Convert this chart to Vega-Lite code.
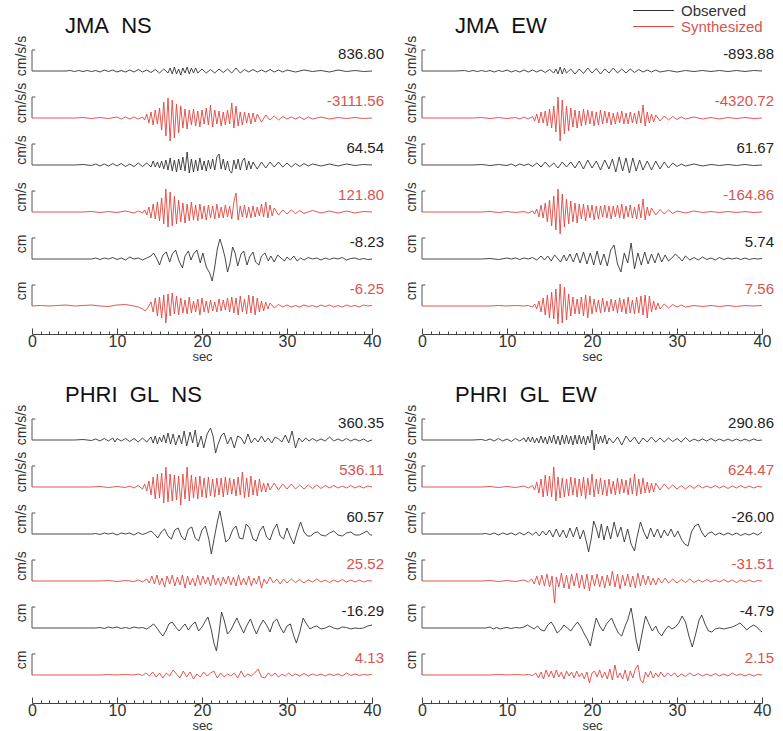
{
"$schema":"https://vega.github.io/schema/vega-lite/v6.json",
"background":"white",
"padding":{"left":14,"top":3,"right":2,"bottom":0},
"config":{
"view":{"stroke":null},
"font":"Liberation Sans",
"facet":{"spacing":17},
"header":{"labelFontSize":14,"labelColor":"#333","labelPadding":-4,"labelAngle":-90,"labelOrient":"left","title":null},
"title":{"fontSize":22,"fontWeight":"normal","anchor":"start","color":"#111"},
"axisX":{"tickColor":"#444","domainColor":"#444","labelFontSize":16,"labelColor":"#333","labelPadding":5,"titleFontSize":13,"titleFontWeight":"normal","titleColor":"#333","titlePadding":-2,"grid":false,"offset":28,"labelFlush":false,"labelOverlap":false},
"axisY":{"disable":true},
"legend":{"orient":"none","legendX":614,"legendY":-38,"symbolType":"M-3.4,0H3.4","symbolSize":144,"symbolStrokeWidth":1,"labelFontSize":15,"rowPadding":0,"labelOffset":20}
},
"datasets":{
"a":[
{"k":1,"lab":"836.80"},{"k":2,"lab":"-3111.56"},{"k":3,"lab":"64.54"},{"k":4,"lab":"121.80"},{"k":5,"lab":"-8.23"},{"k":6,"lab":"-6.25"},
{"k":1,"t":0,"v":0},{"k":1,"t":4,"v":0},{"k":1,"t":4.5,"v":0.5},{"k":1,"t":5,"v":-0.5},{"k":1,"t":5.5,"v":0.5},{"k":1,"t":6,"v":-0.5},{"k":1,"t":6.5,"v":0.5},{"k":1,"t":7,"v":-0.5},{"k":1,"t":7.5,"v":0.5},{"k":1,"t":8,"v":-1},{"k":1,"t":8.5,"v":1},{"k":1,"t":9,"v":-0.5},{"k":1,"t":9.5,"v":1},{"k":1,"t":10,"v":-1},{"k":1,"t":10.5,"v":0.5},{"k":1,"t":11,"v":-1},{"k":1,"t":11.5,"v":1},{"k":1,"t":12,"v":-1},{"k":1,"t":12.5,"v":1.5},{"k":1,"t":13,"v":-1},{"k":1,"t":13.5,"v":1},{"k":1,"t":14,"v":-1.5},{"k":1,"t":14.5,"v":1.5},{"k":1,"t":15,"v":-2},{"k":1,"t":15.5,"v":2},{"k":1,"t":16,"v":-2},{"k":1,"t":16.25,"v":3},{"k":1,"t":16.5,"v":-3},{"k":1,"t":16.75,"v":4},{"k":1,"t":17,"v":-3},{"k":1,"t":17.25,"v":2},{"k":1,"t":17.5,"v":-4},{"k":1,"t":17.75,"v":3},{"k":1,"t":18,"v":-2},{"k":1,"t":18.25,"v":4},{"k":1,"t":18.5,"v":-3},{"k":1,"t":18.75,"v":3},{"k":1,"t":19,"v":-2},{"k":1,"t":19.25,"v":3},{"k":1,"t":19.5,"v":-2},{"k":1,"t":20,"v":2},{"k":1,"t":20.5,"v":-2},{"k":1,"t":21,"v":1.5},{"k":1,"t":21.5,"v":-2},{"k":1,"t":22,"v":2},{"k":1,"t":22.5,"v":-1.5},{"k":1,"t":23,"v":2},{"k":1,"t":23.5,"v":-2},{"k":1,"t":24,"v":3},{"k":1,"t":24.5,"v":-2},{"k":1,"t":25,"v":1.5},{"k":1,"t":25.5,"v":-1},{"k":1,"t":26,"v":1.5},{"k":1,"t":26.5,"v":-1},{"k":1,"t":27,"v":1},{"k":1,"t":27.5,"v":-1},{"k":1,"t":28,"v":1.5},{"k":1,"t":28.5,"v":-1},{"k":1,"t":29,"v":1},{"k":1,"t":29.5,"v":-1},{"k":1,"t":30,"v":1},{"k":1,"t":31,"v":-1},{"k":1,"t":32,"v":1},{"k":1,"t":33,"v":-0.5},{"k":1,"t":34,"v":0.5},{"k":1,"t":35,"v":-1},{"k":1,"t":36,"v":1},{"k":1,"t":37,"v":-0.5},{"k":1,"t":38,"v":0.5},{"k":1,"t":39,"v":-0.5},{"k":1,"t":40,"v":0},
{"k":2,"t":0,"v":0},{"k":2,"t":5,"v":0},{"k":2,"t":6,"v":0.5},{"k":2,"t":7,"v":-0.5},{"k":2,"t":8,"v":0.5},{"k":2,"t":9,"v":-0.5},{"k":2,"t":10,"v":1},{"k":2,"t":10.5,"v":-1},{"k":2,"t":11,"v":1},{"k":2,"t":11.5,"v":-1},{"k":2,"t":12,"v":1},{"k":2,"t":12.5,"v":-1},{"k":2,"t":13,"v":1},{"k":2,"t":13.25,"v":-2},{"k":2,"t":13.5,"v":4},{"k":2,"t":13.75,"v":-5},{"k":2,"t":14,"v":6},{"k":2,"t":14.25,"v":-7},{"k":2,"t":14.5,"v":8},{"k":2,"t":14.75,"v":-6},{"k":2,"t":15,"v":10},{"k":2,"t":15.25,"v":-12},{"k":2,"t":15.5,"v":16},{"k":2,"t":15.75,"v":-18},{"k":2,"t":16,"v":20},{"k":2,"t":16.25,"v":-23},{"k":2,"t":16.5,"v":18},{"k":2,"t":16.75,"v":-20},{"k":2,"t":17,"v":14},{"k":2,"t":17.25,"v":-15},{"k":2,"t":17.5,"v":12},{"k":2,"t":17.75,"v":-10},{"k":2,"t":18,"v":9},{"k":2,"t":18.25,"v":-11},{"k":2,"t":18.5,"v":8},{"k":2,"t":18.75,"v":-7},{"k":2,"t":19,"v":9},{"k":2,"t":19.25,"v":-8},{"k":2,"t":19.5,"v":7},{"k":2,"t":19.75,"v":-9},{"k":2,"t":20,"v":8},{"k":2,"t":20.25,"v":-6},{"k":2,"t":20.5,"v":10},{"k":2,"t":20.75,"v":-7},{"k":2,"t":21,"v":13},{"k":2,"t":21.25,"v":-9},{"k":2,"t":21.5,"v":8},{"k":2,"t":21.75,"v":-6},{"k":2,"t":22,"v":7},{"k":2,"t":22.25,"v":-8},{"k":2,"t":22.5,"v":6},{"k":2,"t":22.75,"v":-7},{"k":2,"t":23,"v":8},{"k":2,"t":23.25,"v":-6},{"k":2,"t":23.5,"v":15},{"k":2,"t":23.75,"v":-10},{"k":2,"t":24,"v":12},{"k":2,"t":24.25,"v":-8},{"k":2,"t":24.5,"v":6},{"k":2,"t":24.75,"v":-7},{"k":2,"t":25,"v":6},{"k":2,"t":25.25,"v":-5},{"k":2,"t":25.5,"v":5},{"k":2,"t":25.75,"v":-6},{"k":2,"t":26,"v":5},{"k":2,"t":26.25,"v":-4},{"k":2,"t":26.5,"v":4},{"k":2,"t":27,"v":-4},{"k":2,"t":27.5,"v":3},{"k":2,"t":28,"v":-2},{"k":2,"t":28.5,"v":2},{"k":2,"t":29,"v":-2},{"k":2,"t":29.5,"v":1.5},{"k":2,"t":30,"v":-1},{"k":2,"t":30.5,"v":1},{"k":2,"t":31,"v":-1},{"k":2,"t":31.5,"v":1},{"k":2,"t":32,"v":-1.5},{"k":2,"t":32.5,"v":1},{"k":2,"t":33,"v":-1},{"k":2,"t":34,"v":1},{"k":2,"t":35,"v":-1},{"k":2,"t":36,"v":0.5},{"k":2,"t":37,"v":-0.5},{"k":2,"t":38,"v":0.5},{"k":2,"t":39,"v":-0.5},{"k":2,"t":40,"v":0},
{"k":3,"t":0,"v":0},{"k":3,"t":5,"v":0},{"k":3,"t":6,"v":0.5},{"k":3,"t":7,"v":-0.5},{"k":3,"t":7.5,"v":1},{"k":3,"t":8,"v":-1},{"k":3,"t":8.5,"v":1},{"k":3,"t":9,"v":-1},{"k":3,"t":9.5,"v":1.5},{"k":3,"t":10,"v":-1},{"k":3,"t":10.5,"v":1.5},{"k":3,"t":11,"v":-1.5},{"k":3,"t":11.5,"v":1},{"k":3,"t":12,"v":-1.5},{"k":3,"t":12.5,"v":2},{"k":3,"t":13,"v":-1.5},{"k":3,"t":13.5,"v":2},{"k":3,"t":14,"v":-2},{"k":3,"t":14.25,"v":4},{"k":3,"t":14.5,"v":-2},{"k":3,"t":14.75,"v":3},{"k":3,"t":15,"v":-3},{"k":3,"t":15.25,"v":4},{"k":3,"t":15.5,"v":-4},{"k":3,"t":15.75,"v":5},{"k":3,"t":16,"v":-5},{"k":3,"t":16.25,"v":7},{"k":3,"t":16.5,"v":-6},{"k":3,"t":16.75,"v":5},{"k":3,"t":17,"v":-7},{"k":3,"t":17.25,"v":6},{"k":3,"t":17.5,"v":-5},{"k":3,"t":17.75,"v":8},{"k":3,"t":18,"v":-6},{"k":3,"t":18.25,"v":13},{"k":3,"t":18.5,"v":-8},{"k":3,"t":18.75,"v":6},{"k":3,"t":19,"v":-7},{"k":3,"t":19.25,"v":5},{"k":3,"t":19.5,"v":-6},{"k":3,"t":19.75,"v":7},{"k":3,"t":20,"v":-5},{"k":3,"t":20.25,"v":4},{"k":3,"t":20.5,"v":-6},{"k":3,"t":20.75,"v":5},{"k":3,"t":21,"v":-4},{"k":3,"t":21.25,"v":6},{"k":3,"t":21.5,"v":-5},{"k":3,"t":21.75,"v":8},{"k":3,"t":22,"v":11},{"k":3,"t":22.25,"v":-4},{"k":3,"t":22.5,"v":6},{"k":3,"t":22.75,"v":-5},{"k":3,"t":23,"v":4},{"k":3,"t":23.25,"v":-6},{"k":3,"t":23.5,"v":-8},{"k":3,"t":23.75,"v":5},{"k":3,"t":24,"v":-4},{"k":3,"t":24.25,"v":6},{"k":3,"t":24.5,"v":-5},{"k":3,"t":24.75,"v":4},{"k":3,"t":25,"v":7},{"k":3,"t":25.25,"v":-5},{"k":3,"t":25.5,"v":4},{"k":3,"t":25.75,"v":-4},{"k":3,"t":26,"v":3},{"k":3,"t":26.5,"v":-4},{"k":3,"t":27,"v":3},{"k":3,"t":27.5,"v":-3},{"k":3,"t":28,"v":3},{"k":3,"t":28.5,"v":-2},{"k":3,"t":29,"v":3},{"k":3,"t":29.5,"v":-2},{"k":3,"t":30,"v":2},{"k":3,"t":30.5,"v":-2},{"k":3,"t":31,"v":1.5},{"k":3,"t":31.5,"v":-1.5},{"k":3,"t":32,"v":1.5},{"k":3,"t":32.5,"v":-1},{"k":3,"t":33,"v":1},{"k":3,"t":34,"v":-1},{"k":3,"t":35,"v":1},{"k":3,"t":36,"v":-1},{"k":3,"t":37,"v":1},{"k":3,"t":38,"v":-0.5},{"k":3,"t":39,"v":0.5},{"k":3,"t":40,"v":0},
{"k":4,"t":0,"v":0},{"k":4,"t":6,"v":0},{"k":4,"t":7,"v":0.5},{"k":4,"t":8,"v":-0.5},{"k":4,"t":9,"v":0.5},{"k":4,"t":10,"v":-0.5},{"k":4,"t":11,"v":1},{"k":4,"t":12,"v":-1},{"k":4,"t":12.5,"v":1},{"k":4,"t":13,"v":-1},{"k":4,"t":13.25,"v":2},{"k":4,"t":13.5,"v":-3},{"k":4,"t":13.75,"v":5},{"k":4,"t":14,"v":-6},{"k":4,"t":14.25,"v":8},{"k":4,"t":14.5,"v":-7},{"k":4,"t":14.75,"v":10},{"k":4,"t":15,"v":-9},{"k":4,"t":15.25,"v":14},{"k":4,"t":15.5,"v":-12},{"k":4,"t":15.75,"v":23},{"k":4,"t":16,"v":-15},{"k":4,"t":16.25,"v":20},{"k":4,"t":16.5,"v":-14},{"k":4,"t":16.75,"v":16},{"k":4,"t":17,"v":-12},{"k":4,"t":17.25,"v":12},{"k":4,"t":17.5,"v":-10},{"k":4,"t":17.75,"v":9},{"k":4,"t":18,"v":-11},{"k":4,"t":18.25,"v":8},{"k":4,"t":18.5,"v":-9},{"k":4,"t":18.75,"v":10},{"k":4,"t":19,"v":-8},{"k":4,"t":19.25,"v":7},{"k":4,"t":19.5,"v":-9},{"k":4,"t":19.75,"v":8},{"k":4,"t":20,"v":-7},{"k":4,"t":20.25,"v":6},{"k":4,"t":20.5,"v":-8},{"k":4,"t":20.75,"v":7},{"k":4,"t":21,"v":-6},{"k":4,"t":21.25,"v":6},{"k":4,"t":21.5,"v":-7},{"k":4,"t":21.75,"v":8},{"k":4,"t":22,"v":-6},{"k":4,"t":22.25,"v":5},{"k":4,"t":22.5,"v":-6},{"k":4,"t":22.75,"v":7},{"k":4,"t":23,"v":-5},{"k":4,"t":23.25,"v":6},{"k":4,"t":23.5,"v":-7},{"k":4,"t":23.75,"v":10},{"k":4,"t":24,"v":19},{"k":4,"t":24.25,"v":-8},{"k":4,"t":24.5,"v":6},{"k":4,"t":24.75,"v":-5},{"k":4,"t":25,"v":7},{"k":4,"t":25.25,"v":-6},{"k":4,"t":25.5,"v":5},{"k":4,"t":25.75,"v":-6},{"k":4,"t":26,"v":6},{"k":4,"t":26.25,"v":-5},{"k":4,"t":26.5,"v":5},{"k":4,"t":26.75,"v":-4},{"k":4,"t":27,"v":8},{"k":4,"t":27.25,"v":-5},{"k":4,"t":27.5,"v":10},{"k":4,"t":27.75,"v":-6},{"k":4,"t":28,"v":7},{"k":4,"t":28.25,"v":-4},{"k":4,"t":28.5,"v":4},{"k":4,"t":29,"v":-3},{"k":4,"t":29.5,"v":2},{"k":4,"t":30,"v":-2},{"k":4,"t":30.5,"v":2},{"k":4,"t":31,"v":-1.5},{"k":4,"t":31.5,"v":1.5},{"k":4,"t":32,"v":-1.5},{"k":4,"t":33,"v":1.5},{"k":4,"t":34,"v":-1},{"k":4,"t":35,"v":1},{"k":4,"t":36,"v":-1},{"k":4,"t":37,"v":1},{"k":4,"t":38,"v":-1},{"k":4,"t":39,"v":0.5},{"k":4,"t":40,"v":0},
{"k":5,"t":0,"v":0},{"k":5,"t":7,"v":0},{"k":5,"t":7.5,"v":1},{"k":5,"t":8,"v":-0.5},{"k":5,"t":8.5,"v":1},{"k":5,"t":9,"v":0},{"k":5,"t":9.5,"v":1.5},{"k":5,"t":10,"v":-0.5},{"k":5,"t":10.5,"v":1},{"k":5,"t":11,"v":-1},{"k":5,"t":11.5,"v":2},{"k":5,"t":12,"v":0},{"k":5,"t":12.5,"v":1},{"k":5,"t":13,"v":-1},{"k":5,"t":13.5,"v":1},{"k":5,"t":14,"v":3},{"k":5,"t":14.3,"v":6},{"k":5,"t":14.7,"v":0},{"k":5,"t":15,"v":-6},{"k":5,"t":15.4,"v":4},{"k":5,"t":15.8,"v":7},{"k":5,"t":16.2,"v":-3},{"k":5,"t":16.5,"v":5},{"k":5,"t":16.9,"v":9},{"k":5,"t":17.3,"v":-2},{"k":5,"t":17.7,"v":-9},{"k":5,"t":18,"v":3},{"k":5,"t":18.4,"v":8},{"k":5,"t":18.7,"v":-1},{"k":5,"t":19,"v":5},{"k":5,"t":19.4,"v":9},{"k":5,"t":19.8,"v":-4},{"k":5,"t":20.1,"v":6},{"k":5,"t":20.5,"v":-8},{"k":5,"t":20.9,"v":-14},{"k":5,"t":21.2,"v":-22},{"k":5,"t":21.5,"v":-8},{"k":5,"t":21.8,"v":10},{"k":5,"t":22.1,"v":20},{"k":5,"t":22.4,"v":12},{"k":5,"t":22.7,"v":2},{"k":5,"t":23,"v":-13},{"k":5,"t":23.3,"v":-4},{"k":5,"t":23.6,"v":12},{"k":5,"t":23.9,"v":6},{"k":5,"t":24.2,"v":-7},{"k":5,"t":24.6,"v":5},{"k":5,"t":24.9,"v":8},{"k":5,"t":25.3,"v":-6},{"k":5,"t":25.6,"v":2},{"k":5,"t":26,"v":7},{"k":5,"t":26.3,"v":-3},{"k":5,"t":26.7,"v":-6},{"k":5,"t":27,"v":3},{"k":5,"t":27.4,"v":6},{"k":5,"t":27.8,"v":-2},{"k":5,"t":28.1,"v":3},{"k":5,"t":28.5,"v":-3},{"k":5,"t":28.9,"v":4},{"k":5,"t":29.3,"v":1},{"k":5,"t":29.7,"v":-2},{"k":5,"t":30,"v":2},{"k":5,"t":30.4,"v":-1},{"k":5,"t":30.8,"v":3},{"k":5,"t":31.2,"v":-2},{"k":5,"t":31.6,"v":1},{"k":5,"t":32,"v":-1},{"k":5,"t":32.5,"v":1.5},{"k":5,"t":33,"v":0},{"k":5,"t":33.5,"v":1},{"k":5,"t":34,"v":-1},{"k":5,"t":34.5,"v":1},{"k":5,"t":35,"v":-0.5},{"k":5,"t":35.5,"v":1},{"k":5,"t":36,"v":0},{"k":5,"t":36.5,"v":1.5},{"k":5,"t":37,"v":-1},{"k":5,"t":37.5,"v":0.5},{"k":5,"t":38,"v":1},{"k":5,"t":38.5,"v":-0.5},{"k":5,"t":39,"v":0.5},{"k":5,"t":39.5,"v":-0.5},{"k":5,"t":40,"v":0},
{"k":6,"t":0,"v":0},{"k":6,"t":1,"v":0.5},{"k":6,"t":2,"v":0},{"k":6,"t":3,"v":0.5},{"k":6,"t":4,"v":1},{"k":6,"t":5,"v":0},{"k":6,"t":6,"v":0.5},{"k":6,"t":7,"v":1},{"k":6,"t":8,"v":0},{"k":6,"t":9,"v":-0.5},{"k":6,"t":10,"v":1},{"k":6,"t":11,"v":1.5},{"k":6,"t":12,"v":0},{"k":6,"t":12.5,"v":-1},{"k":6,"t":13,"v":-3},{"k":6,"t":13.3,"v":-5},{"k":6,"t":13.6,"v":-2},{"k":6,"t":14,"v":4},{"k":6,"t":14.25,"v":-6},{"k":6,"t":14.5,"v":8},{"k":6,"t":14.75,"v":-10},{"k":6,"t":15,"v":9},{"k":6,"t":15.25,"v":-12},{"k":6,"t":15.5,"v":11},{"k":6,"t":15.75,"v":-17},{"k":6,"t":16,"v":12},{"k":6,"t":16.25,"v":-10},{"k":6,"t":16.5,"v":13},{"k":6,"t":16.75,"v":-8},{"k":6,"t":17,"v":10},{"k":6,"t":17.25,"v":-9},{"k":6,"t":17.5,"v":8},{"k":6,"t":17.75,"v":-7},{"k":6,"t":18,"v":6},{"k":6,"t":18.25,"v":-8},{"k":6,"t":18.5,"v":9},{"k":6,"t":18.75,"v":-7},{"k":6,"t":19,"v":5},{"k":6,"t":19.25,"v":-6},{"k":6,"t":19.5,"v":7},{"k":6,"t":19.75,"v":-9},{"k":6,"t":20,"v":8},{"k":6,"t":20.25,"v":-6},{"k":6,"t":20.5,"v":5},{"k":6,"t":20.75,"v":-7},{"k":6,"t":21,"v":6},{"k":6,"t":21.25,"v":-5},{"k":6,"t":21.5,"v":4},{"k":6,"t":21.75,"v":-6},{"k":6,"t":22,"v":7},{"k":6,"t":22.25,"v":-5},{"k":6,"t":22.5,"v":6},{"k":6,"t":22.75,"v":-4},{"k":6,"t":23,"v":8},{"k":6,"t":23.25,"v":-6},{"k":6,"t":23.5,"v":9},{"k":6,"t":23.75,"v":-7},{"k":6,"t":24,"v":8},{"k":6,"t":24.25,"v":-9},{"k":6,"t":24.5,"v":10},{"k":6,"t":24.75,"v":-6},{"k":6,"t":25,"v":7},{"k":6,"t":25.25,"v":-8},{"k":6,"t":25.5,"v":11},{"k":6,"t":25.75,"v":-7},{"k":6,"t":26,"v":10},{"k":6,"t":26.25,"v":-9},{"k":6,"t":26.5,"v":8},{"k":6,"t":26.75,"v":-6},{"k":6,"t":27,"v":5},{"k":6,"t":27.25,"v":-5},{"k":6,"t":27.5,"v":4},{"k":6,"t":27.75,"v":-3},{"k":6,"t":28,"v":3},{"k":6,"t":28.5,"v":-2},{"k":6,"t":29,"v":1.5},{"k":6,"t":29.5,"v":-1},{"k":6,"t":30,"v":1},{"k":6,"t":30.5,"v":-1},{"k":6,"t":31,"v":0.5},{"k":6,"t":31.5,"v":-1},{"k":6,"t":32,"v":1},{"k":6,"t":32.5,"v":-0.5},{"k":6,"t":33,"v":0.5},{"k":6,"t":33.5,"v":-1},{"k":6,"t":34,"v":1},{"k":6,"t":34.5,"v":-0.5},{"k":6,"t":35,"v":1},{"k":6,"t":35.5,"v":-1},{"k":6,"t":36,"v":0.5},{"k":6,"t":36.5,"v":-1},{"k":6,"t":37,"v":1},{"k":6,"t":37.5,"v":-0.5},{"k":6,"t":38,"v":0.5},{"k":6,"t":38.5,"v":-1},{"k":6,"t":39,"v":1},{"k":6,"t":39.5,"v":0},{"k":6,"t":40,"v":0.5}
],
"b":[
{"k":1,"lab":"-893.88"},{"k":2,"lab":"-4320.72"},{"k":3,"lab":"61.67"},{"k":4,"lab":"-164.86"},{"k":5,"lab":"5.74"},{"k":6,"lab":"7.56"},
{"k":1,"t":0,"v":0},{"k":1,"t":4,"v":0},{"k":1,"t":5,"v":0.5},{"k":1,"t":5.5,"v":-0.5},{"k":1,"t":6,"v":0.5},{"k":1,"t":6.5,"v":-0.5},{"k":1,"t":7,"v":0.5},{"k":1,"t":7.5,"v":-0.5},{"k":1,"t":8,"v":0.5},{"k":1,"t":8.5,"v":-1},{"k":1,"t":9,"v":0.5},{"k":1,"t":9.5,"v":-0.5},{"k":1,"t":10,"v":1},{"k":1,"t":10.5,"v":-1},{"k":1,"t":11,"v":0.5},{"k":1,"t":11.5,"v":-1},{"k":1,"t":12,"v":1},{"k":1,"t":12.5,"v":-1},{"k":1,"t":13,"v":1},{"k":1,"t":13.5,"v":-1},{"k":1,"t":14,"v":1},{"k":1,"t":14.5,"v":-1.5},{"k":1,"t":15,"v":1.5},{"k":1,"t":15.5,"v":-2},{"k":1,"t":15.75,"v":2},{"k":1,"t":16,"v":-3},{"k":1,"t":16.25,"v":4},{"k":1,"t":16.5,"v":-3},{"k":1,"t":16.75,"v":3},{"k":1,"t":17,"v":-2},{"k":1,"t":17.5,"v":2},{"k":1,"t":18,"v":-3},{"k":1,"t":18.5,"v":2},{"k":1,"t":19,"v":-2.5},{"k":1,"t":19.5,"v":3},{"k":1,"t":20,"v":-2},{"k":1,"t":20.5,"v":2.5},{"k":1,"t":21,"v":-3},{"k":1,"t":21.5,"v":2},{"k":1,"t":22,"v":-2},{"k":1,"t":22.5,"v":3},{"k":1,"t":23,"v":-2},{"k":1,"t":23.5,"v":2},{"k":1,"t":24,"v":-2},{"k":1,"t":24.5,"v":2},{"k":1,"t":25,"v":-1.5},{"k":1,"t":25.5,"v":1.5},{"k":1,"t":26,"v":-1},{"k":1,"t":26.5,"v":1},{"k":1,"t":27,"v":-1},{"k":1,"t":27.5,"v":1},{"k":1,"t":28,"v":-1},{"k":1,"t":29,"v":0.5},{"k":1,"t":30,"v":-1},{"k":1,"t":31,"v":0.5},{"k":1,"t":32,"v":-0.5},{"k":1,"t":33,"v":0.5},{"k":1,"t":34,"v":-0.5},{"k":1,"t":35,"v":0.5},{"k":1,"t":36,"v":-0.5},{"k":1,"t":37,"v":0.5},{"k":1,"t":38,"v":-0.5},{"k":1,"t":39,"v":0.5},{"k":1,"t":40,"v":0},
{"k":2,"t":0,"v":0},{"k":2,"t":6,"v":0},{"k":2,"t":7,"v":0.5},{"k":2,"t":8,"v":-0.5},{"k":2,"t":9,"v":0.5},{"k":2,"t":10,"v":-0.5},{"k":2,"t":11,"v":0.5},{"k":2,"t":11.5,"v":-1},{"k":2,"t":12,"v":1},{"k":2,"t":12.5,"v":-1},{"k":2,"t":13,"v":1.5},{"k":2,"t":13.25,"v":-3},{"k":2,"t":13.5,"v":4},{"k":2,"t":13.75,"v":-5},{"k":2,"t":14,"v":6},{"k":2,"t":14.25,"v":-5},{"k":2,"t":14.5,"v":7},{"k":2,"t":14.75,"v":-8},{"k":2,"t":15,"v":9},{"k":2,"t":15.25,"v":-10},{"k":2,"t":15.5,"v":12},{"k":2,"t":15.75,"v":-14},{"k":2,"t":16,"v":21},{"k":2,"t":16.25,"v":-23},{"k":2,"t":16.5,"v":18},{"k":2,"t":16.75,"v":-16},{"k":2,"t":17,"v":12},{"k":2,"t":17.25,"v":-13},{"k":2,"t":17.5,"v":10},{"k":2,"t":17.75,"v":-9},{"k":2,"t":18,"v":8},{"k":2,"t":18.25,"v":-10},{"k":2,"t":18.5,"v":7},{"k":2,"t":18.75,"v":-8},{"k":2,"t":19,"v":9},{"k":2,"t":19.25,"v":-7},{"k":2,"t":19.5,"v":8},{"k":2,"t":19.75,"v":-6},{"k":2,"t":20,"v":7},{"k":2,"t":20.25,"v":-8},{"k":2,"t":20.5,"v":6},{"k":2,"t":20.75,"v":-7},{"k":2,"t":21,"v":8},{"k":2,"t":21.25,"v":-6},{"k":2,"t":21.5,"v":7},{"k":2,"t":21.75,"v":-5},{"k":2,"t":22,"v":6},{"k":2,"t":22.25,"v":-7},{"k":2,"t":22.5,"v":5},{"k":2,"t":22.75,"v":-6},{"k":2,"t":23,"v":6},{"k":2,"t":23.25,"v":-5},{"k":2,"t":23.5,"v":7},{"k":2,"t":23.75,"v":-6},{"k":2,"t":24,"v":5},{"k":2,"t":24.25,"v":-6},{"k":2,"t":24.5,"v":6},{"k":2,"t":24.75,"v":-5},{"k":2,"t":25,"v":5},{"k":2,"t":25.25,"v":-6},{"k":2,"t":25.5,"v":7},{"k":2,"t":25.75,"v":-5},{"k":2,"t":26,"v":13},{"k":2,"t":26.25,"v":-8},{"k":2,"t":26.5,"v":6},{"k":2,"t":26.75,"v":-5},{"k":2,"t":27,"v":4},{"k":2,"t":27.25,"v":-4},{"k":2,"t":27.5,"v":3},{"k":2,"t":28,"v":-3},{"k":2,"t":28.5,"v":2},{"k":2,"t":29,"v":-2},{"k":2,"t":29.5,"v":1.5},{"k":2,"t":30,"v":-1.5},{"k":2,"t":30.5,"v":1},{"k":2,"t":31,"v":-1},{"k":2,"t":32,"v":1},{"k":2,"t":33,"v":-1},{"k":2,"t":34,"v":0.5},{"k":2,"t":35,"v":-1},{"k":2,"t":36,"v":0.5},{"k":2,"t":37,"v":-0.5},{"k":2,"t":38,"v":0.5},{"k":2,"t":39,"v":-0.5},{"k":2,"t":40,"v":0},
{"k":3,"t":0,"v":0},{"k":3,"t":6,"v":0},{"k":3,"t":7,"v":0.5},{"k":3,"t":8,"v":-0.5},{"k":3,"t":9,"v":0.5},{"k":3,"t":10,"v":-0.5},{"k":3,"t":10.5,"v":1},{"k":3,"t":11,"v":-1},{"k":3,"t":11.5,"v":1},{"k":3,"t":12,"v":-0.5},{"k":3,"t":12.5,"v":1},{"k":3,"t":13,"v":-1.5},{"k":3,"t":13.5,"v":2},{"k":3,"t":14,"v":-2},{"k":3,"t":14.5,"v":3},{"k":3,"t":15,"v":-2},{"k":3,"t":15.5,"v":2},{"k":3,"t":16,"v":-3},{"k":3,"t":16.5,"v":3},{"k":3,"t":17,"v":-2},{"k":3,"t":17.5,"v":3},{"k":3,"t":18,"v":-3},{"k":3,"t":18.5,"v":4},{"k":3,"t":19,"v":-4},{"k":3,"t":19.5,"v":5},{"k":3,"t":20,"v":-3},{"k":3,"t":20.5,"v":4},{"k":3,"t":21,"v":-5},{"k":3,"t":21.5,"v":5},{"k":3,"t":22,"v":-4},{"k":3,"t":22.4,"v":6},{"k":3,"t":22.8,"v":-7},{"k":3,"t":23.2,"v":8},{"k":3,"t":23.6,"v":-6},{"k":3,"t":24,"v":7},{"k":3,"t":24.4,"v":-8},{"k":3,"t":24.8,"v":7},{"k":3,"t":25.2,"v":-6},{"k":3,"t":25.6,"v":5},{"k":3,"t":26,"v":-5},{"k":3,"t":26.5,"v":4},{"k":3,"t":27,"v":-5},{"k":3,"t":27.5,"v":4},{"k":3,"t":28,"v":-4},{"k":3,"t":28.5,"v":3},{"k":3,"t":29,"v":-3},{"k":3,"t":29.5,"v":2},{"k":3,"t":30,"v":-1.5},{"k":3,"t":30.5,"v":1},{"k":3,"t":31,"v":-1},{"k":3,"t":32,"v":1},{"k":3,"t":33,"v":-1},{"k":3,"t":34,"v":0.5},{"k":3,"t":35,"v":-0.5},{"k":3,"t":36,"v":0.5},{"k":3,"t":37,"v":-0.5},{"k":3,"t":38,"v":0.5},{"k":3,"t":39,"v":-0.5},{"k":3,"t":40,"v":0},
{"k":4,"t":0,"v":0},{"k":4,"t":7,"v":0},{"k":4,"t":8,"v":0.5},{"k":4,"t":9,"v":-0.5},{"k":4,"t":10,"v":0.5},{"k":4,"t":11,"v":-0.5},{"k":4,"t":12,"v":0.5},{"k":4,"t":12.5,"v":-1},{"k":4,"t":13,"v":1},{"k":4,"t":13.25,"v":-2},{"k":4,"t":13.5,"v":3},{"k":4,"t":13.75,"v":-5},{"k":4,"t":14,"v":7},{"k":4,"t":14.25,"v":-6},{"k":4,"t":14.5,"v":9},{"k":4,"t":14.75,"v":-10},{"k":4,"t":15,"v":12},{"k":4,"t":15.25,"v":-14},{"k":4,"t":15.5,"v":16},{"k":4,"t":15.75,"v":-18},{"k":4,"t":16,"v":23},{"k":4,"t":16.25,"v":-22},{"k":4,"t":16.5,"v":18},{"k":4,"t":16.75,"v":-15},{"k":4,"t":17,"v":13},{"k":4,"t":17.25,"v":-12},{"k":4,"t":17.5,"v":11},{"k":4,"t":17.75,"v":-10},{"k":4,"t":18,"v":9},{"k":4,"t":18.25,"v":-11},{"k":4,"t":18.5,"v":8},{"k":4,"t":18.75,"v":-7},{"k":4,"t":19,"v":8},{"k":4,"t":19.25,"v":-9},{"k":4,"t":19.5,"v":7},{"k":4,"t":19.75,"v":-6},{"k":4,"t":20,"v":7},{"k":4,"t":20.25,"v":-8},{"k":4,"t":20.5,"v":6},{"k":4,"t":20.75,"v":-7},{"k":4,"t":21,"v":6},{"k":4,"t":21.25,"v":-5},{"k":4,"t":21.5,"v":7},{"k":4,"t":21.75,"v":-6},{"k":4,"t":22,"v":6},{"k":4,"t":22.25,"v":-7},{"k":4,"t":22.5,"v":6},{"k":4,"t":22.75,"v":-5},{"k":4,"t":23,"v":7},{"k":4,"t":23.25,"v":-6},{"k":4,"t":23.5,"v":8},{"k":4,"t":23.75,"v":-7},{"k":4,"t":24,"v":6},{"k":4,"t":24.25,"v":-5},{"k":4,"t":24.5,"v":7},{"k":4,"t":24.75,"v":-6},{"k":4,"t":25,"v":5},{"k":4,"t":25.25,"v":-7},{"k":4,"t":25.5,"v":8},{"k":4,"t":25.75,"v":-6},{"k":4,"t":26,"v":13},{"k":4,"t":26.25,"v":-8},{"k":4,"t":26.5,"v":5},{"k":4,"t":26.75,"v":-4},{"k":4,"t":27,"v":4},{"k":4,"t":27.5,"v":-3},{"k":4,"t":28,"v":2.5},{"k":4,"t":28.5,"v":-2},{"k":4,"t":29,"v":2},{"k":4,"t":29.5,"v":-1.5},{"k":4,"t":30,"v":1},{"k":4,"t":31,"v":-1},{"k":4,"t":32,"v":1},{"k":4,"t":33,"v":-0.5},{"k":4,"t":34,"v":0.5},{"k":4,"t":35,"v":-0.5},{"k":4,"t":36,"v":0.5},{"k":4,"t":37,"v":-0.5},{"k":4,"t":38,"v":0.5},{"k":4,"t":39,"v":-0.5},{"k":4,"t":40,"v":0},
{"k":5,"t":0,"v":0},{"k":5,"t":7,"v":0},{"k":5,"t":8,"v":0.5},{"k":5,"t":9,"v":-0.5},{"k":5,"t":10,"v":1},{"k":5,"t":10.5,"v":0},{"k":5,"t":11,"v":1},{"k":5,"t":11.5,"v":-0.5},{"k":5,"t":12,"v":1},{"k":5,"t":12.5,"v":0},{"k":5,"t":13,"v":1.5},{"k":5,"t":13.5,"v":-1},{"k":5,"t":14,"v":3},{"k":5,"t":14.4,"v":-1},{"k":5,"t":14.8,"v":3},{"k":5,"t":15.2,"v":-2},{"k":5,"t":15.6,"v":4},{"k":5,"t":16,"v":0},{"k":5,"t":16.3,"v":-3},{"k":5,"t":16.7,"v":4},{"k":5,"t":17,"v":-2},{"k":5,"t":17.4,"v":5},{"k":5,"t":17.8,"v":-3},{"k":5,"t":18.2,"v":6},{"k":5,"t":18.6,"v":-4},{"k":5,"t":19,"v":7},{"k":5,"t":19.4,"v":-5},{"k":5,"t":19.8,"v":6},{"k":5,"t":20.2,"v":-6},{"k":5,"t":20.6,"v":8},{"k":5,"t":21,"v":-6},{"k":5,"t":21.4,"v":5},{"k":5,"t":21.8,"v":-7},{"k":5,"t":22.2,"v":9},{"k":5,"t":22.6,"v":14},{"k":5,"t":23,"v":-5},{"k":5,"t":23.4,"v":-13},{"k":5,"t":23.8,"v":6},{"k":5,"t":24.2,"v":-4},{"k":5,"t":24.6,"v":16},{"k":5,"t":25,"v":-10},{"k":5,"t":25.4,"v":6},{"k":5,"t":25.8,"v":-6},{"k":5,"t":26.2,"v":7},{"k":5,"t":26.6,"v":-5},{"k":5,"t":27,"v":5},{"k":5,"t":27.4,"v":-4},{"k":5,"t":27.8,"v":6},{"k":5,"t":28.2,"v":-3},{"k":5,"t":28.6,"v":4},{"k":5,"t":29,"v":-2},{"k":5,"t":29.4,"v":1},{"k":5,"t":29.8,"v":5},{"k":5,"t":30.2,"v":2},{"k":5,"t":30.6,"v":-2},{"k":5,"t":31,"v":3},{"k":5,"t":31.5,"v":-1},{"k":5,"t":32,"v":1.5},{"k":5,"t":32.5,"v":-1},{"k":5,"t":33,"v":2},{"k":5,"t":33.5,"v":-0.5},{"k":5,"t":34,"v":1},{"k":5,"t":34.5,"v":-1},{"k":5,"t":35,"v":1.5},{"k":5,"t":35.5,"v":-0.5},{"k":5,"t":36,"v":1},{"k":5,"t":36.5,"v":0},{"k":5,"t":37,"v":1},{"k":5,"t":37.5,"v":-0.5},{"k":5,"t":38,"v":1},{"k":5,"t":38.5,"v":-0.5},{"k":5,"t":39,"v":0.5},{"k":5,"t":39.5,"v":0},{"k":5,"t":40,"v":0.5},
{"k":6,"t":0,"v":0},{"k":6,"t":8,"v":0},{"k":6,"t":9,"v":0.5},{"k":6,"t":10,"v":0},{"k":6,"t":11,"v":0.5},{"k":6,"t":12,"v":0},{"k":6,"t":12.5,"v":0.5},{"k":6,"t":13,"v":-1},{"k":6,"t":13.25,"v":2},{"k":6,"t":13.5,"v":-3},{"k":6,"t":13.75,"v":5},{"k":6,"t":14,"v":-6},{"k":6,"t":14.25,"v":8},{"k":6,"t":14.5,"v":-9},{"k":6,"t":14.75,"v":11},{"k":6,"t":15,"v":-12},{"k":6,"t":15.25,"v":14},{"k":6,"t":15.5,"v":-13},{"k":6,"t":15.75,"v":17},{"k":6,"t":16,"v":-18},{"k":6,"t":16.25,"v":22},{"k":6,"t":16.5,"v":-17},{"k":6,"t":16.75,"v":19},{"k":6,"t":17,"v":-14},{"k":6,"t":17.25,"v":12},{"k":6,"t":17.5,"v":-10},{"k":6,"t":17.75,"v":9},{"k":6,"t":18,"v":-8},{"k":6,"t":18.25,"v":7},{"k":6,"t":18.5,"v":-8},{"k":6,"t":18.75,"v":9},{"k":6,"t":19,"v":-10},{"k":6,"t":19.25,"v":11},{"k":6,"t":19.5,"v":-12},{"k":6,"t":19.75,"v":10},{"k":6,"t":20,"v":-8},{"k":6,"t":20.25,"v":7},{"k":6,"t":20.5,"v":-6},{"k":6,"t":20.75,"v":6},{"k":6,"t":21,"v":-7},{"k":6,"t":21.25,"v":8},{"k":6,"t":21.5,"v":-6},{"k":6,"t":21.75,"v":5},{"k":6,"t":22,"v":-6},{"k":6,"t":22.25,"v":7},{"k":6,"t":22.5,"v":-5},{"k":6,"t":22.75,"v":6},{"k":6,"t":23,"v":-7},{"k":6,"t":23.25,"v":8},{"k":6,"t":23.5,"v":-6},{"k":6,"t":23.75,"v":7},{"k":6,"t":24,"v":-8},{"k":6,"t":24.25,"v":9},{"k":6,"t":24.5,"v":-7},{"k":6,"t":24.75,"v":6},{"k":6,"t":25,"v":-8},{"k":6,"t":25.25,"v":9},{"k":6,"t":25.5,"v":-7},{"k":6,"t":25.75,"v":10},{"k":6,"t":26,"v":-9},{"k":6,"t":26.25,"v":11},{"k":6,"t":26.5,"v":-12},{"k":6,"t":26.75,"v":10},{"k":6,"t":27,"v":-6},{"k":6,"t":27.25,"v":5},{"k":6,"t":27.5,"v":-4},{"k":6,"t":27.75,"v":3},{"k":6,"t":28,"v":-3},{"k":6,"t":28.5,"v":2},{"k":6,"t":29,"v":-2},{"k":6,"t":29.5,"v":1.5},{"k":6,"t":30,"v":-1},{"k":6,"t":30.5,"v":1},{"k":6,"t":31,"v":-1},{"k":6,"t":32,"v":0.5},{"k":6,"t":33,"v":-0.5},{"k":6,"t":34,"v":0.5},{"k":6,"t":35,"v":-0.5},{"k":6,"t":36,"v":0.5},{"k":6,"t":37,"v":-0.5},{"k":6,"t":38,"v":0.5},{"k":6,"t":39,"v":0},{"k":6,"t":40,"v":0.5}
],
"c":[
{"k":1,"lab":"360.35"},{"k":2,"lab":"536.11"},{"k":3,"lab":"60.57"},{"k":4,"lab":"25.52"},{"k":5,"lab":"-16.29"},{"k":6,"lab":"4.13"},
{"k":1,"t":0,"v":0},{"k":1,"t":5,"v":0},{"k":1,"t":6,"v":0.5},{"k":1,"t":7,"v":-0.5},{"k":1,"t":7.5,"v":1},{"k":1,"t":8,"v":-1},{"k":1,"t":8.5,"v":1.5},{"k":1,"t":9,"v":-1},{"k":1,"t":9.5,"v":2},{"k":1,"t":9.75,"v":-2},{"k":1,"t":10,"v":1.5},{"k":1,"t":10.5,"v":-1},{"k":1,"t":11,"v":1.5},{"k":1,"t":11.5,"v":-1.5},{"k":1,"t":12,"v":1.5},{"k":1,"t":12.5,"v":-2},{"k":1,"t":13,"v":2},{"k":1,"t":13.5,"v":-2},{"k":1,"t":14,"v":3},{"k":1,"t":14.25,"v":-3},{"k":1,"t":14.5,"v":4},{"k":1,"t":14.75,"v":-4},{"k":1,"t":15,"v":3},{"k":1,"t":15.25,"v":-2},{"k":1,"t":15.5,"v":5},{"k":1,"t":15.75,"v":-3},{"k":1,"t":16,"v":7},{"k":1,"t":16.3,"v":-4},{"k":1,"t":16.6,"v":6},{"k":1,"t":16.9,"v":-5},{"k":1,"t":17.3,"v":5},{"k":1,"t":17.6,"v":-4},{"k":1,"t":17.9,"v":9},{"k":1,"t":18.2,"v":-6},{"k":1,"t":18.6,"v":8},{"k":1,"t":18.9,"v":-3},{"k":1,"t":19.2,"v":10},{"k":1,"t":19.5,"v":-7},{"k":1,"t":19.9,"v":4},{"k":1,"t":20.2,"v":-8},{"k":1,"t":20.6,"v":6},{"k":1,"t":21,"v":12},{"k":1,"t":21.3,"v":4},{"k":1,"t":21.6,"v":-13},{"k":1,"t":21.9,"v":-4},{"k":1,"t":22.3,"v":5},{"k":1,"t":22.6,"v":7},{"k":1,"t":23,"v":-4},{"k":1,"t":23.4,"v":3},{"k":1,"t":23.8,"v":-8},{"k":1,"t":24.2,"v":4},{"k":1,"t":24.6,"v":2},{"k":1,"t":25,"v":-4},{"k":1,"t":25.4,"v":6},{"k":1,"t":25.8,"v":-3},{"k":1,"t":26.2,"v":2},{"k":1,"t":26.6,"v":-2},{"k":1,"t":27,"v":4},{"k":1,"t":27.4,"v":-2},{"k":1,"t":27.8,"v":2},{"k":1,"t":28.2,"v":-3},{"k":1,"t":28.6,"v":3},{"k":1,"t":29,"v":1},{"k":1,"t":29.4,"v":-2},{"k":1,"t":29.8,"v":5},{"k":1,"t":30.2,"v":-3},{"k":1,"t":30.6,"v":9},{"k":1,"t":31,"v":-8},{"k":1,"t":31.4,"v":2},{"k":1,"t":31.8,"v":-2},{"k":1,"t":32.2,"v":2},{"k":1,"t":32.6,"v":-1},{"k":1,"t":33,"v":1.5},{"k":1,"t":33.5,"v":-1},{"k":1,"t":34,"v":1},{"k":1,"t":34.5,"v":-1},{"k":1,"t":35,"v":3},{"k":1,"t":35.5,"v":-1},{"k":1,"t":36,"v":1},{"k":1,"t":36.5,"v":-1},{"k":1,"t":37,"v":1.5},{"k":1,"t":37.5,"v":-1},{"k":1,"t":38,"v":1},{"k":1,"t":38.5,"v":-1},{"k":1,"t":39,"v":1},{"k":1,"t":39.5,"v":-1.5},{"k":1,"t":40,"v":0},
{"k":2,"t":0,"v":0},{"k":2,"t":7,"v":0},{"k":2,"t":8,"v":0.5},{"k":2,"t":9,"v":-0.5},{"k":2,"t":10,"v":0.5},{"k":2,"t":11,"v":-0.5},{"k":2,"t":11.5,"v":1},{"k":2,"t":12,"v":-1},{"k":2,"t":12.5,"v":1.5},{"k":2,"t":13,"v":-2},{"k":2,"t":13.25,"v":3},{"k":2,"t":13.5,"v":-4},{"k":2,"t":13.75,"v":6},{"k":2,"t":14,"v":-8},{"k":2,"t":14.25,"v":10},{"k":2,"t":14.5,"v":-12},{"k":2,"t":14.75,"v":13},{"k":2,"t":15,"v":-11},{"k":2,"t":15.25,"v":14},{"k":2,"t":15.5,"v":-16},{"k":2,"t":15.75,"v":20},{"k":2,"t":16,"v":-15},{"k":2,"t":16.25,"v":13},{"k":2,"t":16.5,"v":-14},{"k":2,"t":16.75,"v":12},{"k":2,"t":17,"v":-13},{"k":2,"t":17.25,"v":11},{"k":2,"t":17.5,"v":-18},{"k":2,"t":17.75,"v":13},{"k":2,"t":18,"v":-12},{"k":2,"t":18.25,"v":20},{"k":2,"t":18.5,"v":-14},{"k":2,"t":18.75,"v":12},{"k":2,"t":19,"v":-11},{"k":2,"t":19.25,"v":10},{"k":2,"t":19.5,"v":-12},{"k":2,"t":19.75,"v":11},{"k":2,"t":20,"v":-10},{"k":2,"t":20.25,"v":9},{"k":2,"t":20.5,"v":-11},{"k":2,"t":20.75,"v":10},{"k":2,"t":21,"v":-9},{"k":2,"t":21.25,"v":8},{"k":2,"t":21.5,"v":-10},{"k":2,"t":21.75,"v":9},{"k":2,"t":22,"v":-8},{"k":2,"t":22.25,"v":9},{"k":2,"t":22.5,"v":-10},{"k":2,"t":22.75,"v":10},{"k":2,"t":23,"v":-8},{"k":2,"t":23.25,"v":9},{"k":2,"t":23.5,"v":-7},{"k":2,"t":23.75,"v":8},{"k":2,"t":24,"v":-9},{"k":2,"t":24.25,"v":10},{"k":2,"t":24.5,"v":-8},{"k":2,"t":24.75,"v":15},{"k":2,"t":25,"v":-11},{"k":2,"t":25.25,"v":9},{"k":2,"t":25.5,"v":-10},{"k":2,"t":25.75,"v":11},{"k":2,"t":26,"v":-8},{"k":2,"t":26.25,"v":7},{"k":2,"t":26.5,"v":-9},{"k":2,"t":26.75,"v":8},{"k":2,"t":27,"v":-5},{"k":2,"t":27.25,"v":4},{"k":2,"t":27.5,"v":-5},{"k":2,"t":27.75,"v":4},{"k":2,"t":28,"v":-3},{"k":2,"t":28.5,"v":4},{"k":2,"t":29,"v":-3},{"k":2,"t":29.5,"v":3},{"k":2,"t":30,"v":-2},{"k":2,"t":30.5,"v":3},{"k":2,"t":31,"v":-2},{"k":2,"t":31.5,"v":2},{"k":2,"t":32,"v":-2},{"k":2,"t":32.5,"v":2},{"k":2,"t":33,"v":-1.5},{"k":2,"t":33.5,"v":2},{"k":2,"t":34,"v":-1.5},{"k":2,"t":34.5,"v":1.5},{"k":2,"t":35,"v":-1},{"k":2,"t":35.5,"v":1.5},{"k":2,"t":36,"v":-1},{"k":2,"t":36.5,"v":1},{"k":2,"t":37,"v":-1},{"k":2,"t":37.5,"v":1.5},{"k":2,"t":38,"v":-1},{"k":2,"t":38.5,"v":1},{"k":2,"t":39,"v":-1},{"k":2,"t":39.5,"v":1},{"k":2,"t":40,"v":0},
{"k":3,"t":0,"v":0},{"k":3,"t":7,"v":0},{"k":3,"t":7.5,"v":0.5},{"k":3,"t":8,"v":-0.5},{"k":3,"t":8.5,"v":1},{"k":3,"t":9,"v":0},{"k":3,"t":9.5,"v":1},{"k":3,"t":10,"v":-1},{"k":3,"t":10.5,"v":1},{"k":3,"t":11,"v":0},{"k":3,"t":11.5,"v":1},{"k":3,"t":12,"v":-1},{"k":3,"t":12.5,"v":1.5},{"k":3,"t":13,"v":-0.5},{"k":3,"t":13.5,"v":1},{"k":3,"t":14,"v":3},{"k":3,"t":14.4,"v":0},{"k":3,"t":14.8,"v":-4},{"k":3,"t":15.2,"v":2},{"k":3,"t":15.6,"v":5},{"k":3,"t":16,"v":-2},{"k":3,"t":16.4,"v":-5},{"k":3,"t":16.8,"v":4},{"k":3,"t":17.2,"v":6},{"k":3,"t":17.6,"v":-3},{"k":3,"t":18,"v":-6},{"k":3,"t":18.4,"v":5},{"k":3,"t":18.8,"v":7},{"k":3,"t":19.2,"v":-4},{"k":3,"t":19.6,"v":-7},{"k":3,"t":20,"v":4},{"k":3,"t":20.4,"v":8},{"k":3,"t":20.8,"v":-5},{"k":3,"t":21.1,"v":-20},{"k":3,"t":21.4,"v":-6},{"k":3,"t":21.8,"v":12},{"k":3,"t":22.1,"v":23},{"k":3,"t":22.4,"v":10},{"k":3,"t":22.8,"v":-8},{"k":3,"t":23.2,"v":-5},{"k":3,"t":23.6,"v":4},{"k":3,"t":24,"v":8},{"k":3,"t":24.4,"v":-4},{"k":3,"t":24.8,"v":-5},{"k":3,"t":25.2,"v":10},{"k":3,"t":25.6,"v":6},{"k":3,"t":26,"v":-5},{"k":3,"t":26.4,"v":-7},{"k":3,"t":26.8,"v":3},{"k":3,"t":27.2,"v":8},{"k":3,"t":27.6,"v":-3},{"k":3,"t":28,"v":-6},{"k":3,"t":28.4,"v":4},{"k":3,"t":28.8,"v":10},{"k":3,"t":29.2,"v":-2},{"k":3,"t":29.6,"v":-5},{"k":3,"t":30,"v":6},{"k":3,"t":30.4,"v":-3},{"k":3,"t":30.8,"v":-10},{"k":3,"t":31.2,"v":2},{"k":3,"t":31.6,"v":12},{"k":3,"t":32,"v":2},{"k":3,"t":32.4,"v":-2},{"k":3,"t":32.8,"v":-2},{"k":3,"t":33.2,"v":1},{"k":3,"t":33.6,"v":2},{"k":3,"t":34,"v":-1},{"k":3,"t":34.5,"v":-2},{"k":3,"t":35,"v":1},{"k":3,"t":35.5,"v":3},{"k":3,"t":36,"v":-1},{"k":3,"t":36.5,"v":-2},{"k":3,"t":37,"v":1},{"k":3,"t":37.5,"v":2},{"k":3,"t":38,"v":-1},{"k":3,"t":38.5,"v":-1},{"k":3,"t":39,"v":1},{"k":3,"t":39.4,"v":3},{"k":3,"t":39.8,"v":-1},{"k":3,"t":40,"v":-1},
{"k":4,"t":0,"v":0},{"k":4,"t":8,"v":0},{"k":4,"t":9,"v":0.5},{"k":4,"t":10,"v":-0.5},{"k":4,"t":11,"v":0.5},{"k":4,"t":12,"v":-0.5},{"k":4,"t":12.5,"v":1},{"k":4,"t":13,"v":-1},{"k":4,"t":13.5,"v":2},{"k":4,"t":13.8,"v":-2},{"k":4,"t":14.1,"v":5},{"k":4,"t":14.4,"v":-3},{"k":4,"t":14.7,"v":6},{"k":4,"t":15,"v":-4},{"k":4,"t":15.3,"v":3},{"k":4,"t":15.6,"v":-6},{"k":4,"t":15.9,"v":5},{"k":4,"t":16.2,"v":-3},{"k":4,"t":16.5,"v":6},{"k":4,"t":16.8,"v":-5},{"k":4,"t":17.1,"v":4},{"k":4,"t":17.4,"v":-4},{"k":4,"t":17.7,"v":6},{"k":4,"t":18,"v":-7},{"k":4,"t":18.3,"v":5},{"k":4,"t":18.6,"v":-4},{"k":4,"t":18.9,"v":3},{"k":4,"t":19.2,"v":-5},{"k":4,"t":19.5,"v":6},{"k":4,"t":19.8,"v":-4},{"k":4,"t":20.1,"v":5},{"k":4,"t":20.4,"v":-3},{"k":4,"t":20.7,"v":4},{"k":4,"t":21,"v":-5},{"k":4,"t":21.3,"v":6},{"k":4,"t":21.6,"v":-4},{"k":4,"t":21.9,"v":3},{"k":4,"t":22.2,"v":-5},{"k":4,"t":22.5,"v":4},{"k":4,"t":22.8,"v":-3},{"k":4,"t":23.1,"v":5},{"k":4,"t":23.4,"v":-4},{"k":4,"t":23.7,"v":4},{"k":4,"t":24,"v":-5},{"k":4,"t":24.3,"v":6},{"k":4,"t":24.6,"v":-4},{"k":4,"t":24.9,"v":3},{"k":4,"t":25.2,"v":-4},{"k":4,"t":25.5,"v":5},{"k":4,"t":25.8,"v":-5},{"k":4,"t":26.1,"v":3},{"k":4,"t":26.4,"v":-3},{"k":4,"t":26.7,"v":5},{"k":4,"t":27,"v":-7},{"k":4,"t":27.3,"v":2},{"k":4,"t":27.6,"v":-3},{"k":4,"t":28,"v":4},{"k":4,"t":28.4,"v":-2},{"k":4,"t":28.8,"v":2},{"k":4,"t":29.2,"v":-3},{"k":4,"t":29.6,"v":2},{"k":4,"t":30,"v":-2},{"k":4,"t":30.5,"v":2},{"k":4,"t":31,"v":-1.5},{"k":4,"t":31.5,"v":1.5},{"k":4,"t":32,"v":-2},{"k":4,"t":32.5,"v":1},{"k":4,"t":33,"v":-1},{"k":4,"t":33.5,"v":2},{"k":4,"t":34,"v":-1},{"k":4,"t":34.5,"v":1},{"k":4,"t":35,"v":-1.5},{"k":4,"t":35.5,"v":1},{"k":4,"t":36,"v":-1},{"k":4,"t":36.5,"v":1.5},{"k":4,"t":37,"v":-1},{"k":4,"t":37.5,"v":1},{"k":4,"t":38,"v":-1},{"k":4,"t":38.5,"v":1},{"k":4,"t":39,"v":-1},{"k":4,"t":39.5,"v":0.5},{"k":4,"t":40,"v":0},
{"k":5,"t":0,"v":0},{"k":5,"t":7.5,"v":0},{"k":5,"t":8,"v":0.5},{"k":5,"t":8.5,"v":-0.5},{"k":5,"t":9,"v":1},{"k":5,"t":9.5,"v":0},{"k":5,"t":10,"v":1},{"k":5,"t":10.5,"v":-0.5},{"k":5,"t":11,"v":0.5},{"k":5,"t":11.5,"v":-0.5},{"k":5,"t":12,"v":1},{"k":5,"t":12.5,"v":0},{"k":5,"t":13,"v":0.5},{"k":5,"t":13.5,"v":-1},{"k":5,"t":14,"v":2},{"k":5,"t":14.3,"v":4},{"k":5,"t":14.7,"v":0},{"k":5,"t":15.1,"v":-5},{"k":5,"t":15.4,"v":-8},{"k":5,"t":15.8,"v":-2},{"k":5,"t":16.1,"v":4},{"k":5,"t":16.5,"v":6},{"k":5,"t":16.9,"v":1},{"k":5,"t":17.3,"v":-3},{"k":5,"t":17.6,"v":0},{"k":5,"t":18,"v":4},{"k":5,"t":18.4,"v":-2},{"k":5,"t":18.8,"v":3},{"k":5,"t":19.2,"v":6},{"k":5,"t":19.6,"v":-3},{"k":5,"t":20,"v":1},{"k":5,"t":20.4,"v":7},{"k":5,"t":20.7,"v":11},{"k":5,"t":21.1,"v":-2},{"k":5,"t":21.4,"v":-15},{"k":5,"t":21.7,"v":-23},{"k":5,"t":22,"v":-5},{"k":5,"t":22.3,"v":16},{"k":5,"t":22.6,"v":8},{"k":5,"t":23,"v":-6},{"k":5,"t":23.4,"v":-2},{"k":5,"t":23.8,"v":5},{"k":5,"t":24.1,"v":10},{"k":5,"t":24.5,"v":2},{"k":5,"t":24.9,"v":-5},{"k":5,"t":25.3,"v":3},{"k":5,"t":25.7,"v":9},{"k":5,"t":26,"v":2},{"k":5,"t":26.4,"v":-6},{"k":5,"t":26.8,"v":2},{"k":5,"t":27.2,"v":8},{"k":5,"t":27.6,"v":3},{"k":5,"t":28,"v":-4},{"k":5,"t":28.4,"v":6},{"k":5,"t":28.8,"v":9},{"k":5,"t":29.2,"v":1},{"k":5,"t":29.6,"v":-5},{"k":5,"t":30,"v":2},{"k":5,"t":30.4,"v":4},{"k":5,"t":30.8,"v":-8},{"k":5,"t":31.1,"v":-15},{"k":5,"t":31.5,"v":-4},{"k":5,"t":31.9,"v":10},{"k":5,"t":32.3,"v":4},{"k":5,"t":32.7,"v":-1},{"k":5,"t":33.1,"v":1},{"k":5,"t":33.5,"v":2},{"k":5,"t":34,"v":-1},{"k":5,"t":34.5,"v":0},{"k":5,"t":35,"v":2},{"k":5,"t":35.5,"v":0},{"k":5,"t":36,"v":-1},{"k":5,"t":36.5,"v":1},{"k":5,"t":37,"v":0.5},{"k":5,"t":37.5,"v":-1},{"k":5,"t":38,"v":0},{"k":5,"t":38.5,"v":-0.5},{"k":5,"t":39,"v":0},{"k":5,"t":39.5,"v":2},{"k":5,"t":40,"v":3},
{"k":6,"t":0,"v":0},{"k":6,"t":8,"v":0},{"k":6,"t":9,"v":0.5},{"k":6,"t":10,"v":0},{"k":6,"t":11,"v":0.5},{"k":6,"t":12,"v":0},{"k":6,"t":12.5,"v":1},{"k":6,"t":13,"v":-0.5},{"k":6,"t":13.4,"v":2},{"k":6,"t":13.8,"v":-1},{"k":6,"t":14.2,"v":3},{"k":6,"t":14.6,"v":-2},{"k":6,"t":15,"v":2},{"k":6,"t":15.4,"v":-3},{"k":6,"t":15.8,"v":2},{"k":6,"t":16.2,"v":-1},{"k":6,"t":16.6,"v":5},{"k":6,"t":17,"v":1},{"k":6,"t":17.4,"v":-3},{"k":6,"t":17.8,"v":4},{"k":6,"t":18.2,"v":-2},{"k":6,"t":18.6,"v":3},{"k":6,"t":19,"v":-4},{"k":6,"t":19.4,"v":1},{"k":6,"t":19.8,"v":-2},{"k":6,"t":20.2,"v":3},{"k":6,"t":20.6,"v":-1},{"k":6,"t":21,"v":2},{"k":6,"t":21.4,"v":4},{"k":6,"t":21.8,"v":-3},{"k":6,"t":22.2,"v":2},{"k":6,"t":22.6,"v":-2},{"k":6,"t":23,"v":1},{"k":6,"t":23.4,"v":-1},{"k":6,"t":23.8,"v":2},{"k":6,"t":24.2,"v":-3},{"k":6,"t":24.6,"v":4},{"k":6,"t":25,"v":-2},{"k":6,"t":25.4,"v":1},{"k":6,"t":25.8,"v":-1},{"k":6,"t":26.2,"v":2},{"k":6,"t":26.6,"v":6},{"k":6,"t":27,"v":-2},{"k":6,"t":27.4,"v":-3},{"k":6,"t":27.8,"v":2},{"k":6,"t":28.2,"v":-1},{"k":6,"t":28.6,"v":2},{"k":6,"t":29,"v":-2},{"k":6,"t":29.4,"v":1},{"k":6,"t":29.8,"v":-1},{"k":6,"t":30.2,"v":2},{"k":6,"t":30.6,"v":-1},{"k":6,"t":31,"v":1},{"k":6,"t":31.5,"v":-1},{"k":6,"t":32,"v":1.5},{"k":6,"t":32.5,"v":-1},{"k":6,"t":33,"v":1},{"k":6,"t":33.5,"v":-0.5},{"k":6,"t":34,"v":1},{"k":6,"t":34.5,"v":-1},{"k":6,"t":35,"v":1},{"k":6,"t":35.5,"v":-0.5},{"k":6,"t":36,"v":1},{"k":6,"t":36.5,"v":-1},{"k":6,"t":37,"v":2},{"k":6,"t":37.5,"v":-0.5},{"k":6,"t":38,"v":1},{"k":6,"t":38.5,"v":-0.5},{"k":6,"t":39,"v":0.5},{"k":6,"t":39.5,"v":0},{"k":6,"t":40,"v":0.5}
],
"d":[
{"k":1,"lab":"290.86"},{"k":2,"lab":"624.47"},{"k":3,"lab":"-26.00"},{"k":4,"lab":"-31.51"},{"k":5,"lab":"-4.79"},{"k":6,"lab":"2.15"},
{"k":1,"t":0,"v":0},{"k":1,"t":6,"v":0},{"k":1,"t":7,"v":0.5},{"k":1,"t":7.5,"v":-0.5},{"k":1,"t":8,"v":1},{"k":1,"t":8.5,"v":-1},{"k":1,"t":9,"v":1.5},{"k":1,"t":9.5,"v":-1},{"k":1,"t":10,"v":1},{"k":1,"t":10.5,"v":-1.5},{"k":1,"t":11,"v":1.5},{"k":1,"t":11.5,"v":-1},{"k":1,"t":12,"v":2},{"k":1,"t":12.25,"v":-2},{"k":1,"t":12.5,"v":3},{"k":1,"t":12.75,"v":-2},{"k":1,"t":13,"v":3},{"k":1,"t":13.25,"v":-3},{"k":1,"t":13.5,"v":2},{"k":1,"t":13.75,"v":-3},{"k":1,"t":14,"v":4},{"k":1,"t":14.25,"v":-3},{"k":1,"t":14.5,"v":3},{"k":1,"t":14.75,"v":-4},{"k":1,"t":15,"v":4},{"k":1,"t":15.25,"v":-3},{"k":1,"t":15.5,"v":5},{"k":1,"t":15.75,"v":-4},{"k":1,"t":16,"v":4},{"k":1,"t":16.25,"v":-5},{"k":1,"t":16.5,"v":5},{"k":1,"t":16.75,"v":-4},{"k":1,"t":17,"v":5},{"k":1,"t":17.25,"v":-4},{"k":1,"t":17.5,"v":4},{"k":1,"t":17.75,"v":-5},{"k":1,"t":18,"v":5},{"k":1,"t":18.25,"v":-4},{"k":1,"t":18.5,"v":5},{"k":1,"t":18.75,"v":-4},{"k":1,"t":19,"v":4},{"k":1,"t":19.25,"v":-5},{"k":1,"t":19.5,"v":4},{"k":1,"t":19.75,"v":-3},{"k":1,"t":20,"v":10},{"k":1,"t":20.25,"v":-10},{"k":1,"t":20.5,"v":6},{"k":1,"t":20.75,"v":-4},{"k":1,"t":21,"v":4},{"k":1,"t":21.25,"v":-3},{"k":1,"t":21.5,"v":5},{"k":1,"t":21.75,"v":-4},{"k":1,"t":22,"v":2},{"k":1,"t":22.5,"v":-3},{"k":1,"t":23,"v":3},{"k":1,"t":23.5,"v":-5},{"k":1,"t":24,"v":4},{"k":1,"t":24.5,"v":-2},{"k":1,"t":25,"v":3},{"k":1,"t":25.5,"v":-4},{"k":1,"t":26,"v":2},{"k":1,"t":26.5,"v":-2},{"k":1,"t":27,"v":3},{"k":1,"t":27.5,"v":-2},{"k":1,"t":28,"v":2},{"k":1,"t":28.5,"v":-2},{"k":1,"t":29,"v":2},{"k":1,"t":29.5,"v":-1.5},{"k":1,"t":30,"v":1.5},{"k":1,"t":30.5,"v":-2},{"k":1,"t":31,"v":2.5},{"k":1,"t":31.5,"v":-1.5},{"k":1,"t":32,"v":1},{"k":1,"t":32.5,"v":-1},{"k":1,"t":33,"v":1},{"k":1,"t":33.5,"v":-1},{"k":1,"t":34,"v":1.5},{"k":1,"t":34.5,"v":-1},{"k":1,"t":35,"v":1},{"k":1,"t":35.5,"v":-1},{"k":1,"t":36,"v":1},{"k":1,"t":36.5,"v":-1},{"k":1,"t":37,"v":1},{"k":1,"t":37.5,"v":-1},{"k":1,"t":38,"v":1},{"k":1,"t":38.5,"v":-1},{"k":1,"t":39,"v":1},{"k":1,"t":39.5,"v":-0.5},{"k":1,"t":40,"v":0},
{"k":2,"t":0,"v":0},{"k":2,"t":7,"v":0},{"k":2,"t":8,"v":0.5},{"k":2,"t":9,"v":-0.5},{"k":2,"t":10,"v":0.5},{"k":2,"t":11,"v":-0.5},{"k":2,"t":12,"v":1},{"k":2,"t":12.5,"v":-1},{"k":2,"t":13,"v":1.5},{"k":2,"t":13.25,"v":-3},{"k":2,"t":13.5,"v":5},{"k":2,"t":13.75,"v":-6},{"k":2,"t":14,"v":8},{"k":2,"t":14.25,"v":-10},{"k":2,"t":14.5,"v":12},{"k":2,"t":14.75,"v":-9},{"k":2,"t":15,"v":11},{"k":2,"t":15.25,"v":-10},{"k":2,"t":15.5,"v":20},{"k":2,"t":15.75,"v":-14},{"k":2,"t":16,"v":10},{"k":2,"t":16.25,"v":-11},{"k":2,"t":16.5,"v":9},{"k":2,"t":16.75,"v":-10},{"k":2,"t":17,"v":8},{"k":2,"t":17.25,"v":-9},{"k":2,"t":17.5,"v":10},{"k":2,"t":17.75,"v":-8},{"k":2,"t":18,"v":9},{"k":2,"t":18.25,"v":-10},{"k":2,"t":18.5,"v":8},{"k":2,"t":18.75,"v":-9},{"k":2,"t":19,"v":10},{"k":2,"t":19.25,"v":-12},{"k":2,"t":19.5,"v":9},{"k":2,"t":19.75,"v":-8},{"k":2,"t":20,"v":13},{"k":2,"t":20.25,"v":-10},{"k":2,"t":20.5,"v":8},{"k":2,"t":20.75,"v":-7},{"k":2,"t":21,"v":9},{"k":2,"t":21.25,"v":-8},{"k":2,"t":21.5,"v":7},{"k":2,"t":21.75,"v":-9},{"k":2,"t":22,"v":8},{"k":2,"t":22.25,"v":-7},{"k":2,"t":22.5,"v":6},{"k":2,"t":22.75,"v":-8},{"k":2,"t":23,"v":9},{"k":2,"t":23.25,"v":-7},{"k":2,"t":23.5,"v":8},{"k":2,"t":23.75,"v":-6},{"k":2,"t":24,"v":7},{"k":2,"t":24.25,"v":-8},{"k":2,"t":24.5,"v":9},{"k":2,"t":24.75,"v":-7},{"k":2,"t":25,"v":13},{"k":2,"t":25.25,"v":-9},{"k":2,"t":25.5,"v":8},{"k":2,"t":25.75,"v":-7},{"k":2,"t":26,"v":9},{"k":2,"t":26.25,"v":-6},{"k":2,"t":26.5,"v":5},{"k":2,"t":26.75,"v":-6},{"k":2,"t":27,"v":4},{"k":2,"t":27.25,"v":-5},{"k":2,"t":27.5,"v":4},{"k":2,"t":28,"v":-3},{"k":2,"t":28.5,"v":3},{"k":2,"t":29,"v":-2},{"k":2,"t":29.5,"v":2},{"k":2,"t":30,"v":-2},{"k":2,"t":30.5,"v":1.5},{"k":2,"t":31,"v":-2},{"k":2,"t":31.5,"v":1.5},{"k":2,"t":32,"v":-1.5},{"k":2,"t":32.5,"v":2},{"k":2,"t":33,"v":-1},{"k":2,"t":33.5,"v":1},{"k":2,"t":34,"v":-1},{"k":2,"t":34.5,"v":1.5},{"k":2,"t":35,"v":-1},{"k":2,"t":35.5,"v":1},{"k":2,"t":36,"v":-1.5},{"k":2,"t":36.5,"v":1},{"k":2,"t":37,"v":-1},{"k":2,"t":37.5,"v":1.5},{"k":2,"t":38,"v":-1},{"k":2,"t":38.5,"v":1},{"k":2,"t":39,"v":-1},{"k":2,"t":39.5,"v":0.5},{"k":2,"t":40,"v":0},
{"k":3,"t":0,"v":0},{"k":3,"t":7,"v":0},{"k":3,"t":7.5,"v":0.5},{"k":3,"t":8,"v":-0.5},{"k":3,"t":8.5,"v":1},{"k":3,"t":9,"v":-1},{"k":3,"t":9.5,"v":1},{"k":3,"t":10,"v":-0.5},{"k":3,"t":10.5,"v":1},{"k":3,"t":11,"v":-1},{"k":3,"t":11.5,"v":1.5},{"k":3,"t":12,"v":-1},{"k":3,"t":12.5,"v":2},{"k":3,"t":13,"v":-1},{"k":3,"t":13.4,"v":2},{"k":3,"t":13.8,"v":-2},{"k":3,"t":14.2,"v":3},{"k":3,"t":14.6,"v":-1},{"k":3,"t":15,"v":4},{"k":3,"t":15.4,"v":-3},{"k":3,"t":15.8,"v":5},{"k":3,"t":16.2,"v":-3},{"k":3,"t":16.6,"v":4},{"k":3,"t":17,"v":-4},{"k":3,"t":17.4,"v":6},{"k":3,"t":17.8,"v":-3},{"k":3,"t":18.2,"v":7},{"k":3,"t":18.6,"v":-5},{"k":3,"t":19,"v":4},{"k":3,"t":19.4,"v":-10},{"k":3,"t":19.6,"v":-18},{"k":3,"t":19.9,"v":-5},{"k":3,"t":20.2,"v":13},{"k":3,"t":20.5,"v":6},{"k":3,"t":20.8,"v":-4},{"k":3,"t":21.1,"v":10},{"k":3,"t":21.4,"v":-6},{"k":3,"t":21.8,"v":8},{"k":3,"t":22.2,"v":-5},{"k":3,"t":22.6,"v":12},{"k":3,"t":23,"v":-3},{"k":3,"t":23.4,"v":7},{"k":3,"t":23.8,"v":-8},{"k":3,"t":24.2,"v":5},{"k":3,"t":24.6,"v":-10},{"k":3,"t":25,"v":-17},{"k":3,"t":25.3,"v":-3},{"k":3,"t":25.7,"v":12},{"k":3,"t":26.1,"v":2},{"k":3,"t":26.5,"v":-5},{"k":3,"t":26.9,"v":6},{"k":3,"t":27.3,"v":-3},{"k":3,"t":27.7,"v":5},{"k":3,"t":28.1,"v":-4},{"k":3,"t":28.5,"v":4},{"k":3,"t":28.9,"v":-2},{"k":3,"t":29.3,"v":5},{"k":3,"t":29.7,"v":-3},{"k":3,"t":30.1,"v":3},{"k":3,"t":30.5,"v":-5},{"k":3,"t":30.9,"v":-10},{"k":3,"t":31.3,"v":-12},{"k":3,"t":31.7,"v":2},{"k":3,"t":32.1,"v":8},{"k":3,"t":32.5,"v":10},{"k":3,"t":32.9,"v":2},{"k":3,"t":33.3,"v":-3},{"k":3,"t":33.7,"v":1},{"k":3,"t":34.1,"v":2},{"k":3,"t":34.5,"v":-1},{"k":3,"t":35,"v":1},{"k":3,"t":35.5,"v":-1},{"k":3,"t":36,"v":1},{"k":3,"t":36.5,"v":-1},{"k":3,"t":37,"v":1},{"k":3,"t":37.5,"v":-1.5},{"k":3,"t":38,"v":0.5},{"k":3,"t":38.5,"v":-1},{"k":3,"t":39,"v":1},{"k":3,"t":39.5,"v":-1},{"k":3,"t":40,"v":2},
{"k":4,"t":0,"v":0},{"k":4,"t":7,"v":0},{"k":4,"t":8,"v":0.5},{"k":4,"t":9,"v":-0.5},{"k":4,"t":10,"v":0.5},{"k":4,"t":11,"v":-0.5},{"k":4,"t":12,"v":1},{"k":4,"t":12.5,"v":-1},{"k":4,"t":12.9,"v":2},{"k":4,"t":13.2,"v":-3},{"k":4,"t":13.5,"v":5},{"k":4,"t":13.8,"v":-4},{"k":4,"t":14.1,"v":6},{"k":4,"t":14.4,"v":-5},{"k":4,"t":14.7,"v":7},{"k":4,"t":15,"v":-6},{"k":4,"t":15.3,"v":5},{"k":4,"t":15.6,"v":-22},{"k":4,"t":15.8,"v":4},{"k":4,"t":16.1,"v":-6},{"k":4,"t":16.4,"v":8},{"k":4,"t":16.7,"v":-7},{"k":4,"t":17,"v":6},{"k":4,"t":17.3,"v":-8},{"k":4,"t":17.6,"v":7},{"k":4,"t":17.9,"v":-5},{"k":4,"t":18.2,"v":8},{"k":4,"t":18.5,"v":-7},{"k":4,"t":18.8,"v":6},{"k":4,"t":19.1,"v":-8},{"k":4,"t":19.4,"v":7},{"k":4,"t":19.7,"v":-10},{"k":4,"t":20,"v":6},{"k":4,"t":20.3,"v":-5},{"k":4,"t":20.6,"v":7},{"k":4,"t":20.9,"v":-6},{"k":4,"t":21.2,"v":5},{"k":4,"t":21.5,"v":-7},{"k":4,"t":21.8,"v":6},{"k":4,"t":22.1,"v":-5},{"k":4,"t":22.4,"v":10},{"k":4,"t":22.7,"v":-6},{"k":4,"t":23,"v":7},{"k":4,"t":23.3,"v":-8},{"k":4,"t":23.6,"v":6},{"k":4,"t":23.9,"v":-5},{"k":4,"t":24.2,"v":7},{"k":4,"t":24.5,"v":-6},{"k":4,"t":24.8,"v":5},{"k":4,"t":25.1,"v":-7},{"k":4,"t":25.4,"v":8},{"k":4,"t":25.7,"v":-5},{"k":4,"t":26,"v":6},{"k":4,"t":26.3,"v":-4},{"k":4,"t":26.6,"v":5},{"k":4,"t":26.9,"v":-4},{"k":4,"t":27.2,"v":3},{"k":4,"t":27.5,"v":-4},{"k":4,"t":27.8,"v":3},{"k":4,"t":28.2,"v":-2},{"k":4,"t":28.6,"v":3},{"k":4,"t":29,"v":-2},{"k":4,"t":29.5,"v":2},{"k":4,"t":30,"v":-2},{"k":4,"t":30.5,"v":1.5},{"k":4,"t":31,"v":-1.5},{"k":4,"t":31.5,"v":2},{"k":4,"t":32,"v":-1.5},{"k":4,"t":32.5,"v":1},{"k":4,"t":33,"v":-1},{"k":4,"t":33.5,"v":1.5},{"k":4,"t":34,"v":-1},{"k":4,"t":34.5,"v":1},{"k":4,"t":35,"v":-1},{"k":4,"t":35.5,"v":1.5},{"k":4,"t":36,"v":-1},{"k":4,"t":36.5,"v":1},{"k":4,"t":37,"v":-1.5},{"k":4,"t":37.5,"v":1},{"k":4,"t":38,"v":-1},{"k":4,"t":38.5,"v":1},{"k":4,"t":39,"v":-1},{"k":4,"t":39.5,"v":0.5},{"k":4,"t":40,"v":0},
{"k":5,"t":0,"v":0},{"k":5,"t":7.5,"v":0},{"k":5,"t":8,"v":1},{"k":5,"t":8.4,"v":-1},{"k":5,"t":8.8,"v":0.5},{"k":5,"t":9.2,"v":-1},{"k":5,"t":9.6,"v":0},{"k":5,"t":10,"v":0.5},{"k":5,"t":10.5,"v":-0.5},{"k":5,"t":11,"v":0.5},{"k":5,"t":11.5,"v":0},{"k":5,"t":12,"v":1},{"k":5,"t":12.4,"v":3},{"k":5,"t":12.8,"v":1},{"k":5,"t":13.2,"v":-1},{"k":5,"t":13.6,"v":2},{"k":5,"t":14,"v":-2},{"k":5,"t":14.4,"v":-3},{"k":5,"t":14.8,"v":3},{"k":5,"t":15.2,"v":6},{"k":5,"t":15.5,"v":2},{"k":5,"t":15.9,"v":-5},{"k":5,"t":16.3,"v":-2},{"k":5,"t":16.7,"v":3},{"k":5,"t":17.1,"v":0},{"k":5,"t":17.5,"v":-3},{"k":5,"t":17.9,"v":2},{"k":5,"t":18.3,"v":6},{"k":5,"t":18.7,"v":1},{"k":5,"t":19.1,"v":-6},{"k":5,"t":19.5,"v":-12},{"k":5,"t":19.8,"v":-18},{"k":5,"t":20.1,"v":-5},{"k":5,"t":20.5,"v":10},{"k":5,"t":20.9,"v":2},{"k":5,"t":21.3,"v":-3},{"k":5,"t":21.7,"v":4},{"k":5,"t":22.3,"v":10},{"k":5,"t":22.7,"v":2},{"k":5,"t":23.1,"v":-5},{"k":5,"t":23.5,"v":-8},{"k":5,"t":23.9,"v":2},{"k":5,"t":24.2,"v":8},{"k":5,"t":24.6,"v":20},{"k":5,"t":24.9,"v":5},{"k":5,"t":25.2,"v":-12},{"k":5,"t":25.5,"v":-23},{"k":5,"t":25.9,"v":-5},{"k":5,"t":26.3,"v":12},{"k":5,"t":26.7,"v":4},{"k":5,"t":27.1,"v":-3},{"k":5,"t":27.5,"v":2},{"k":5,"t":27.8,"v":-4},{"k":5,"t":28.2,"v":-8},{"k":5,"t":28.6,"v":-2},{"k":5,"t":29,"v":2},{"k":5,"t":29.4,"v":-1},{"k":5,"t":29.8,"v":1},{"k":5,"t":30.2,"v":5},{"k":5,"t":30.6,"v":12},{"k":5,"t":31,"v":6},{"k":5,"t":31.4,"v":-8},{"k":5,"t":31.8,"v":-19},{"k":5,"t":32.2,"v":-6},{"k":5,"t":32.6,"v":8},{"k":5,"t":32.9,"v":13},{"k":5,"t":33.3,"v":4},{"k":5,"t":33.7,"v":-3},{"k":5,"t":34.1,"v":-4},{"k":5,"t":34.5,"v":-1},{"k":5,"t":35,"v":0},{"k":5,"t":35.5,"v":-1},{"k":5,"t":36,"v":0},{"k":5,"t":36.5,"v":1},{"k":5,"t":37,"v":3},{"k":5,"t":37.4,"v":5},{"k":5,"t":37.8,"v":2},{"k":5,"t":38.2,"v":-2},{"k":5,"t":38.6,"v":1},{"k":5,"t":39,"v":3},{"k":5,"t":39.4,"v":1},{"k":5,"t":39.7,"v":-2},{"k":5,"t":40,"v":-4},
{"k":6,"t":0,"v":0},{"k":6,"t":8,"v":0},{"k":6,"t":9,"v":0.5},{"k":6,"t":10,"v":0},{"k":6,"t":11,"v":0.5},{"k":6,"t":12,"v":0},{"k":6,"t":12.5,"v":0.5},{"k":6,"t":13,"v":-0.5},{"k":6,"t":13.4,"v":2},{"k":6,"t":13.7,"v":-3},{"k":6,"t":14,"v":3},{"k":6,"t":14.3,"v":-4},{"k":6,"t":14.6,"v":5},{"k":6,"t":14.9,"v":-2},{"k":6,"t":15.2,"v":4},{"k":6,"t":15.5,"v":-3},{"k":6,"t":15.8,"v":5},{"k":6,"t":16.1,"v":-2},{"k":6,"t":16.4,"v":3},{"k":6,"t":16.7,"v":-4},{"k":6,"t":17,"v":4},{"k":6,"t":17.3,"v":-1},{"k":6,"t":17.6,"v":3},{"k":6,"t":17.9,"v":-3},{"k":6,"t":18.2,"v":4},{"k":6,"t":18.5,"v":-2},{"k":6,"t":18.8,"v":2},{"k":6,"t":19.1,"v":-4},{"k":6,"t":19.4,"v":3},{"k":6,"t":19.7,"v":-8},{"k":6,"t":20,"v":2},{"k":6,"t":20.3,"v":4},{"k":6,"t":20.6,"v":-2},{"k":6,"t":20.9,"v":5},{"k":6,"t":21.2,"v":-3},{"k":6,"t":21.5,"v":3},{"k":6,"t":21.8,"v":-4},{"k":6,"t":22.1,"v":6},{"k":6,"t":22.4,"v":-5},{"k":6,"t":22.7,"v":10},{"k":6,"t":23,"v":-3},{"k":6,"t":23.3,"v":2},{"k":6,"t":23.6,"v":-4},{"k":6,"t":23.9,"v":5},{"k":6,"t":24.2,"v":-6},{"k":6,"t":24.5,"v":4},{"k":6,"t":24.8,"v":-3},{"k":6,"t":25.1,"v":6},{"k":6,"t":25.4,"v":10},{"k":6,"t":25.7,"v":-5},{"k":6,"t":26,"v":-8},{"k":6,"t":26.3,"v":3},{"k":6,"t":26.6,"v":-2},{"k":6,"t":26.9,"v":4},{"k":6,"t":27.2,"v":-3},{"k":6,"t":27.5,"v":2},{"k":6,"t":27.8,"v":-2},{"k":6,"t":28.1,"v":3},{"k":6,"t":28.5,"v":-2},{"k":6,"t":28.9,"v":2},{"k":6,"t":29.3,"v":-1},{"k":6,"t":29.7,"v":2},{"k":6,"t":30.1,"v":-2},{"k":6,"t":30.5,"v":1},{"k":6,"t":31,"v":-1.5},{"k":6,"t":31.5,"v":2},{"k":6,"t":32,"v":-1},{"k":6,"t":32.5,"v":1.5},{"k":6,"t":33,"v":-1},{"k":6,"t":33.5,"v":1},{"k":6,"t":34,"v":-1},{"k":6,"t":34.5,"v":1.5},{"k":6,"t":35,"v":-1},{"k":6,"t":35.5,"v":1},{"k":6,"t":36,"v":-1},{"k":6,"t":36.5,"v":2},{"k":6,"t":37,"v":-0.5},{"k":6,"t":37.5,"v":1},{"k":6,"t":38,"v":-1},{"k":6,"t":38.5,"v":1},{"k":6,"t":39,"v":-1},{"k":6,"t":39.5,"v":0.5},{"k":6,"t":40,"v":0}
]
},
"spacing":20,
"vconcat":[
{"spacing":20,"hconcat":[
{"data":{"name":"a"},"bounds":"flush","title":{"text":"JMA\u00a0\u00a0NS","dx":50,"offset":-2},
"facet":{"row":{"field":"k","type":"ordinal","title":null,"header":{"labelExpr":"datum.value <= 2 ? 'cm/s/s' : datum.value <= 4 ? 'cm/s' : 'cm'"}}},
"spec":{"width":340,"height":30,"layer":[
{"transform":[{"filter":"isValid(datum.v)"}],"mark":{"type":"line","strokeWidth":0.9},"encoding":{"x":{"field":"t","type":"quantitative","scale":{"domain":[0,40],"nice":false},"axis":{"title":"sec","labelOverlap":false,"tickCount":41,"tickSize":{"condition":{"test":"datum.value % 10 === 0","value":-6},"value":-3},"values":[0,1,2,3,4,5,6,7,8,9,10,11,12,13,14,15,16,17,18,19,20,21,22,23,24,25,26,27,28,29,30,31,32,33,34,35,36,37,38,39,40],"labelExpr":"datum.value % 10 === 0 ? datum.label : ''"}},"y":{"field":"v","type":"quantitative","scale":{"domain":[0,30],"nice":false,"zero":false}},"color":{"field":"k","type":"nominal","scale":{"domain":[1,2,3,4,5,6],"range":["#333333","#e0453f","#333333","#e0453f","#333333","#e0453f"]},"legend":{"values":[1,2],"title":null,"labelExpr":"datum.value == 1 ? 'Observed' : 'Synthesized'","encode":{"labels":{"update":{"fill":{"signal":"datum.value == 1 ? '#333333' : '#d9534f'"}}}}}}}},
{"transform":[{"filter":"isValid(datum.lab)"}],"mark":{"type":"rule","color":"#555555","strokeWidth":1},"encoding":{"x":{"datum":0},"y":{"datum":0},"y2":{"datum":21}}},
{"transform":[{"filter":"isValid(datum.lab)"}],"mark":{"type":"rule","color":"#555555","strokeWidth":1},"encoding":{"x":{"datum":0},"x2":{"datum":0.4},"y":{"datum":21}}},
{"transform":[{"filter":"isValid(datum.lab)"}],"mark":{"type":"text","align":"right","baseline":"middle","dx":12,"fontSize":15},"encoding":{"x":{"datum":40},"y":{"datum":17},"text":{"field":"lab"},"fill":{"field":"k","type":"nominal","scale":{"domain":[1,2,3,4,5,6],"range":["#222222","#d9534f","#222222","#d9534f","#222222","#d9534f"]},"legend":null}}}
]}},
{"data":{"name":"b"},"bounds":"flush","title":{"text":"JMA\u00a0\u00a0EW","dx":50,"offset":-2},
"facet":{"row":{"field":"k","type":"ordinal","title":null,"header":{"labelExpr":"datum.value <= 2 ? 'cm/s/s' : datum.value <= 4 ? 'cm/s' : 'cm'"}}},
"spec":{"width":340,"height":30,"layer":[
{"transform":[{"filter":"isValid(datum.v)"}],"mark":{"type":"line","strokeWidth":0.9},"encoding":{"x":{"field":"t","type":"quantitative","scale":{"domain":[0,40],"nice":false},"axis":{"title":"sec","labelOverlap":false,"tickCount":41,"tickSize":{"condition":{"test":"datum.value % 10 === 0","value":-6},"value":-3},"values":[0,1,2,3,4,5,6,7,8,9,10,11,12,13,14,15,16,17,18,19,20,21,22,23,24,25,26,27,28,29,30,31,32,33,34,35,36,37,38,39,40],"labelExpr":"datum.value % 10 === 0 ? datum.label : ''"}},"y":{"field":"v","type":"quantitative","scale":{"domain":[0,30],"nice":false,"zero":false}},"color":{"field":"k","type":"nominal","scale":{"domain":[1,2,3,4,5,6],"range":["#333333","#e0453f","#333333","#e0453f","#333333","#e0453f"]},"legend":{"values":[1,2],"title":null,"labelExpr":"datum.value == 1 ? 'Observed' : 'Synthesized'","encode":{"labels":{"update":{"fill":{"signal":"datum.value == 1 ? '#333333' : '#d9534f'"}}}}}}}},
{"transform":[{"filter":"isValid(datum.lab)"}],"mark":{"type":"rule","color":"#555555","strokeWidth":1},"encoding":{"x":{"datum":0},"y":{"datum":0},"y2":{"datum":21}}},
{"transform":[{"filter":"isValid(datum.lab)"}],"mark":{"type":"rule","color":"#555555","strokeWidth":1},"encoding":{"x":{"datum":0},"x2":{"datum":0.4},"y":{"datum":21}}},
{"transform":[{"filter":"isValid(datum.lab)"}],"mark":{"type":"text","align":"right","baseline":"middle","dx":12,"fontSize":15},"encoding":{"x":{"datum":40},"y":{"datum":17},"text":{"field":"lab"},"fill":{"field":"k","type":"nominal","scale":{"domain":[1,2,3,4,5,6],"range":["#222222","#d9534f","#222222","#d9534f","#222222","#d9534f"]},"legend":null}}}
]}}
]},
{"spacing":20,"hconcat":[
{"data":{"name":"c"},"bounds":"flush","title":{"text":"PHRI\u00a0\u00a0GL\u00a0\u00a0NS","dx":50,"offset":-2},
"facet":{"row":{"field":"k","type":"ordinal","title":null,"header":{"labelExpr":"datum.value <= 2 ? 'cm/s/s' : datum.value <= 4 ? 'cm/s' : 'cm'"}}},
"spec":{"width":340,"height":30,"layer":[
{"transform":[{"filter":"isValid(datum.v)"}],"mark":{"type":"line","strokeWidth":0.9},"encoding":{"x":{"field":"t","type":"quantitative","scale":{"domain":[0,40],"nice":false},"axis":{"title":"sec","labelOverlap":false,"tickCount":41,"tickSize":{"condition":{"test":"datum.value % 10 === 0","value":-6},"value":-3},"values":[0,1,2,3,4,5,6,7,8,9,10,11,12,13,14,15,16,17,18,19,20,21,22,23,24,25,26,27,28,29,30,31,32,33,34,35,36,37,38,39,40],"labelExpr":"datum.value % 10 === 0 ? datum.label : ''"}},"y":{"field":"v","type":"quantitative","scale":{"domain":[0,30],"nice":false,"zero":false}},"color":{"field":"k","type":"nominal","scale":{"domain":[1,2,3,4,5,6],"range":["#333333","#e0453f","#333333","#e0453f","#333333","#e0453f"]},"legend":{"values":[1,2],"title":null,"labelExpr":"datum.value == 1 ? 'Observed' : 'Synthesized'","encode":{"labels":{"update":{"fill":{"signal":"datum.value == 1 ? '#333333' : '#d9534f'"}}}}}}}},
{"transform":[{"filter":"isValid(datum.lab)"}],"mark":{"type":"rule","color":"#555555","strokeWidth":1},"encoding":{"x":{"datum":0},"y":{"datum":0},"y2":{"datum":21}}},
{"transform":[{"filter":"isValid(datum.lab)"}],"mark":{"type":"rule","color":"#555555","strokeWidth":1},"encoding":{"x":{"datum":0},"x2":{"datum":0.4},"y":{"datum":21}}},
{"transform":[{"filter":"isValid(datum.lab)"}],"mark":{"type":"text","align":"right","baseline":"middle","dx":12,"fontSize":15},"encoding":{"x":{"datum":40},"y":{"datum":17},"text":{"field":"lab"},"fill":{"field":"k","type":"nominal","scale":{"domain":[1,2,3,4,5,6],"range":["#222222","#d9534f","#222222","#d9534f","#222222","#d9534f"]},"legend":null}}}
]}},
{"data":{"name":"d"},"bounds":"flush","title":{"text":"PHRI\u00a0\u00a0GL\u00a0\u00a0EW","dx":50,"offset":-2},
"facet":{"row":{"field":"k","type":"ordinal","title":null,"header":{"labelExpr":"datum.value <= 2 ? 'cm/s/s' : datum.value <= 4 ? 'cm/s' : 'cm'"}}},
"spec":{"width":340,"height":30,"layer":[
{"transform":[{"filter":"isValid(datum.v)"}],"mark":{"type":"line","strokeWidth":0.9},"encoding":{"x":{"field":"t","type":"quantitative","scale":{"domain":[0,40],"nice":false},"axis":{"title":"sec","labelOverlap":false,"tickCount":41,"tickSize":{"condition":{"test":"datum.value % 10 === 0","value":-6},"value":-3},"values":[0,1,2,3,4,5,6,7,8,9,10,11,12,13,14,15,16,17,18,19,20,21,22,23,24,25,26,27,28,29,30,31,32,33,34,35,36,37,38,39,40],"labelExpr":"datum.value % 10 === 0 ? datum.label : ''"}},"y":{"field":"v","type":"quantitative","scale":{"domain":[0,30],"nice":false,"zero":false}},"color":{"field":"k","type":"nominal","scale":{"domain":[1,2,3,4,5,6],"range":["#333333","#e0453f","#333333","#e0453f","#333333","#e0453f"]},"legend":{"values":[1,2],"title":null,"labelExpr":"datum.value == 1 ? 'Observed' : 'Synthesized'","encode":{"labels":{"update":{"fill":{"signal":"datum.value == 1 ? '#333333' : '#d9534f'"}}}}}}}},
{"transform":[{"filter":"isValid(datum.lab)"}],"mark":{"type":"rule","color":"#555555","strokeWidth":1},"encoding":{"x":{"datum":0},"y":{"datum":0},"y2":{"datum":21}}},
{"transform":[{"filter":"isValid(datum.lab)"}],"mark":{"type":"rule","color":"#555555","strokeWidth":1},"encoding":{"x":{"datum":0},"x2":{"datum":0.4},"y":{"datum":21}}},
{"transform":[{"filter":"isValid(datum.lab)"}],"mark":{"type":"text","align":"right","baseline":"middle","dx":12,"fontSize":15},"encoding":{"x":{"datum":40},"y":{"datum":17},"text":{"field":"lab"},"fill":{"field":"k","type":"nominal","scale":{"domain":[1,2,3,4,5,6],"range":["#222222","#d9534f","#222222","#d9534f","#222222","#d9534f"]},"legend":null}}}
]}}
]}
]
}
